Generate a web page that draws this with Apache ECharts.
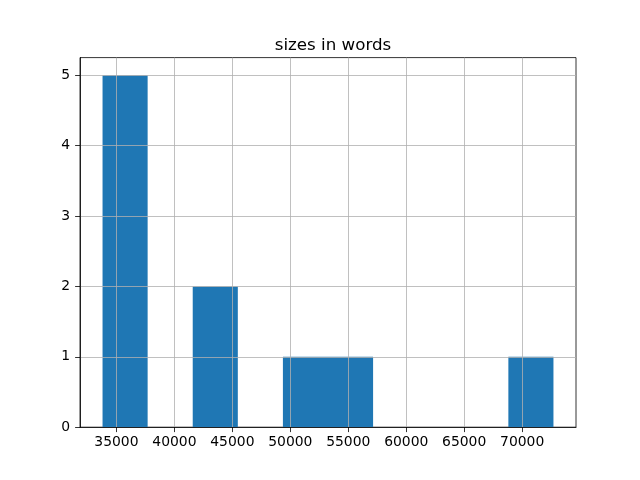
<!DOCTYPE html>
<html>
<head>
<meta charset="utf-8">
<script src="https://cdn.jsdelivr.net/npm/echarts@6/dist/echarts.min.js"></script>
<style>html,body{margin:0;padding:0;background:#fff;}#c{width:640px;height:480px;}</style>
</head>
<body>
<div id="c"></div>
<script>
const titleText = "sizes in words";
const dataMin = 33800;
const dataMax = 72700;
const counts = [5, 0, 2, 0, 1, 1, 0, 0, 0, 1];
const xTicks = [35000, 40000, 45000, 50000, 55000, 60000, 65000, 70000];
const yTicks = [0, 1, 2, 3, 4, 5];

const nBins = counts.length;
const binW = (dataMax - dataMin) / nBins;
const bins = counts.map((c, i) => [dataMin + i * binW, dataMin + (i + 1) * binW, c]);
const xPad = (dataMax - dataMin) * 0.05;
const yMax = Math.max(...counts) * 1.05;

const chart = echarts.init(document.getElementById('c'), null, {renderer: 'canvas'});
const font = 'DejaVu Sans';
chart.setOption({
  animation: false,
  backgroundColor: '#ffffff',
  title: {
    text: titleText, left: 328, top: 32, textAlign: 'center',
    textStyle: {fontFamily: font, fontSize: 16.7, fontWeight: 'normal', color: '#000'}
  },
  grid: {
    left: 80, right: 64, top: 57.6, bottom: 52.8,
    show: true, borderColor: '#000', borderWidth: 0.8, backgroundColor: 'transparent'
  },
  xAxis: {
    type: 'value', min: dataMin - xPad, max: dataMax + xPad, z: 5,
    axisLine: {show: true, onZero: false, lineStyle: {color: '#000', width: 0.8}},
    axisTick: {show: true, customValues: xTicks, length: 4.9, lineStyle: {color: '#000', width: 0.8}},
    axisLabel: {customValues: xTicks, formatter: v => String(v), fontFamily: font, fontSize: 13.9, color: '#000', margin: 8},
    splitLine: {show: true, lineStyle: {color: '#b0b0b0', width: 0.8}}
  },
  yAxis: {
    type: 'value', min: 0, max: yMax, z: 5,
    axisLine: {show: true, lineStyle: {color: '#000', width: 0.8}},
    axisTick: {show: true, customValues: yTicks, length: 4.9, lineStyle: {color: '#000', width: 0.8}},
    axisLabel: {customValues: yTicks, formatter: v => String(v), fontFamily: font, fontSize: 13.9, color: '#000', margin: 10},
    splitLine: {show: true, lineStyle: {color: '#b0b0b0', width: 0.8}}
  },
  series: [{
    type: 'custom',
    z: 2,
    data: bins,
    renderItem: function (params, api) {
      const x0 = api.value(0), x1 = api.value(1), c = api.value(2);
      if (c <= 0) return null;
      const p0 = api.coord([x0, c]);
      const p1 = api.coord([x1, 0]);
      return {
        type: 'rect',
        shape: {x: p0[0], y: p0[1], width: p1[0] - p0[0], height: p1[1] - p0[1]},
        style: {fill: '#1f77b4'}
      };
    }
  }]
});
</script>
</body>
</html>
